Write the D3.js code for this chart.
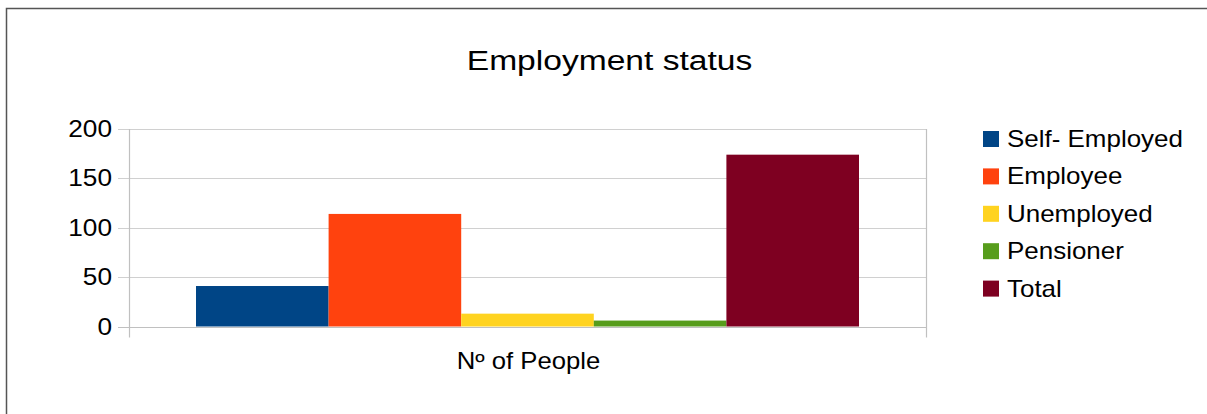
<!DOCTYPE html>
<html><head><meta charset="utf-8">
<script src="https://cdn.jsdelivr.net/npm/d3@7"></script>
<style>body{margin:0;background:#fff}svg{display:block}text{font-family:"Liberation Sans",Arial,sans-serif;fill:#000}</style>
</head><body><svg id="c" width="1207" height="414"></svg>
<script>
const title = "Employment status";
const category = "Nº of People";
const series = ["Self- Employed", "Employee", "Unemployed", "Pensioner", "Total"];
const values = [41, 114, 13, 6, 174];
const colors = ["#004586", "#ff420e", "#ffd320", "#579d1c", "#7e0021"];
const yTicks = [0, 50, 100, 150, 200];

const svg = d3.select("#c");
svg.append("rect").attr("x", 6.5).attr("y", 8.5).attr("width", 1300).attr("height", 500)
  .attr("fill", "#fff").attr("stroke", "#555").attr("stroke-width", 1.5);

const L = 129, R = 926, T = 129, B = 326.5;
const y = d3.scaleLinear().domain([0, 200]).range([B, T]);
const bandPad = 67;
const xb = d3.scaleBand().domain(series).range([L + bandPad, R - bandPad]);

const SX = 1.14;
function stretched(sel, x, yy, sx) {
  return sel.attr("transform", `translate(${x},${yy}) scale(${sx},1)`);
}

// gridlines
svg.append("g").selectAll("line").data(yTicks).join("line")
  .attr("x1", L - 11).attr("x2", R)
  .attr("y1", d => Math.round(y(d)) + 0.5).attr("y2", d => Math.round(y(d)) + 0.5)
  .attr("stroke", d => d === 0 ? "#c0c0c0" : "#d0d0d0").attr("stroke-width", 1.2);

// bars
svg.selectAll("rect.bar").data(values).join("rect").attr("class", "bar")
  .attr("x", (d, i) => xb(series[i])).attr("width", xb.bandwidth())
  .attr("y", d => y(d)).attr("height", d => B - y(d))
  .attr("fill", (d, i) => colors[i]);

// axis lines
svg.append("line").attr("x1", L + 0.5).attr("x2", L + 0.5).attr("y1", T).attr("y2", B + 11).attr("stroke", "#c0c0c0").attr("stroke-width", 1.2);
svg.append("line").attr("x1", R + 0.5).attr("x2", R + 0.5).attr("y1", T).attr("y2", B + 11).attr("stroke", "#c0c0c0").attr("stroke-width", 1.2);

// y tick labels
svg.selectAll("text.yt").data(yTicks).join("text").attr("class", "yt")
  .attr("text-anchor", "end").attr("font-size", 23)
  .attr("transform", d => `translate(${L - 17},${y(d) + 8}) scale(${SX},1)`)
  .text(d => d);

// x label
stretched(svg.append("text"), (L + R) / 2 + 1, 369, SX * 0.98)
  .attr("text-anchor", "middle").attr("font-size", 23).text(category);

// title
stretched(svg.append("text"), 609.5, 70, 1.2)
  .attr("text-anchor", "middle").attr("font-size", 28).text(title);

// legend
const lg = svg.append("g");
series.forEach((s, i) => {
  const cy = 139 + i * 37.4;
  lg.append("rect").attr("x", 983).attr("y", cy - 8).attr("width", 16).attr("height", 16).attr("fill", colors[i]);
  stretched(lg.append("text"), 1007, cy + 8, SX * 0.99).attr("font-size", 23).text(s);
});
</script></body></html>
